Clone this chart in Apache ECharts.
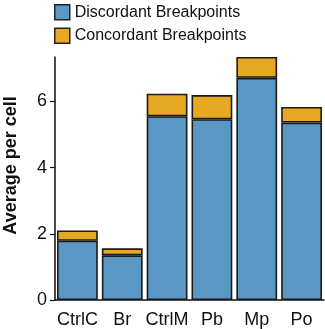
<!DOCTYPE html>
<html><head><meta charset="utf-8">
<script src="https://cdn.jsdelivr.net/npm/echarts@6/dist/echarts.min.js"></script>
<style>html,body{margin:0;padding:0;background:#fff}#c{width:325px;height:329px}</style>
</head><body><div id="c"></div>
<script>
const categories = ["CtrlC", "Br", "CtrlM", "Pb", "Mp", "Po"];
const discordant = [1.79, 1.35, 5.55, 5.46, 6.71, 5.36];
const concordant = [0.31, 0.21, 0.68, 0.73, 0.63, 0.47];
const yTicks = [0, 2, 4, 6];
const yMax = 7.34;

const chart = echarts.init(document.getElementById('c'), null, {renderer: 'canvas'});
const font = 'Liberation Sans, Arial, sans-serif';
chart.setOption({
  animation: false,
  legend: {
    orient: 'vertical', left: 49, top: -1, itemWidth: 15, itemHeight: 15, itemGap: 7,
    icon: 'rect',
    itemStyle: {borderColor: '#222', borderWidth: 1.5},
    textStyle: {fontFamily: font, fontSize: 16, color: '#111'},
    data: ['Discordant Breakpoints', 'Concordant Breakpoints']
  },
  grid: {left: 55, right: 1, top: 57, bottom: 29, containLabel: false, outerBoundsMode: 'none'},
  xAxis: {
    type: 'category', data: categories,
    axisLine: {lineStyle: {color: '#111', width: 1.5}},
    axisTick: {alignWithLabel: true, length: 5, lineStyle: {color: '#111', width: 1.2}},
    axisLabel: {fontFamily: font, fontSize: 18, color: '#111', margin: 11, interval: 0, hideOverlap: false}
  },
  yAxis: {
    type: 'value', min: 0, max: yMax, interval: 2,
    name: 'Average per cell', nameLocation: 'middle', nameGap: 35,
    nameTextStyle: {fontFamily: font, fontSize: 18, fontWeight: 'bold', color: '#111', padding: [0, 0, 0, 26]},
    splitLine: {show: false},
    axisLine: {show: true, lineStyle: {color: '#111', width: 1.5}},
    axisTick: {show: true, length: 5, customValues: yTicks, lineStyle: {color: '#111', width: 1.2}},
    axisLabel: {fontFamily: font, fontSize: 18, color: '#111', margin: 8, customValues: yTicks}
  },
  series: [
    {name: 'Discordant Breakpoints', type: 'bar', stack: 's', data: discordant,
     barCategoryGap: '9%',
     itemStyle: {color: '#5b97c4', borderColor: '#1a1a1a', borderWidth: 1.6}},
    {name: 'Concordant Breakpoints', type: 'bar', stack: 's', data: concordant,
     barCategoryGap: '9%',
     itemStyle: {color: '#e7a823', borderColor: '#1a1a1a', borderWidth: 1.6}}
  ]
});
</script></body></html>
